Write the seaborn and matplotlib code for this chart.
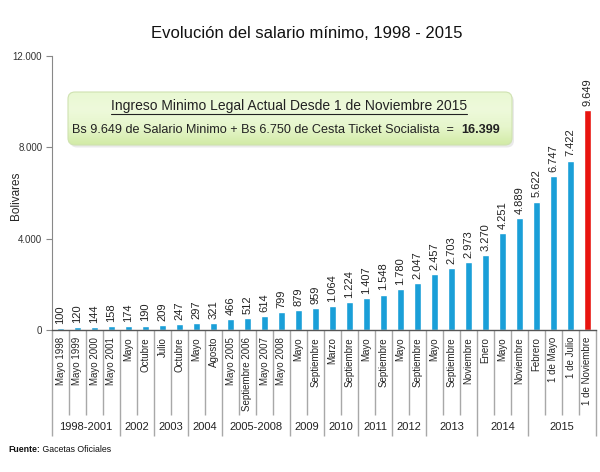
import matplotlib
matplotlib.use("Agg")
import matplotlib.pyplot as plt
import matplotlib.transforms as mtransforms
from matplotlib.patches import FancyBboxPatch
from matplotlib.colors import LinearSegmentedColormap
import numpy as np
import pandas as pd
import seaborn as sns

# ---------------- data ----------------
categories = ["Mayo 1998", "Mayo 1999", "Mayo 2000", "Mayo 2001",
              "Mayo", "Octubre",
              "Julio", "Octubre ",
              "Mayo ", "Agosto",
              "Mayo 2005", "Septiembre 2006", "Mayo 2007", "Mayo 2008",
              "Mayo  ", "Septiembre",
              "Marzo", "Septiembre ",
              "Mayo   ", "Septiembre  ",
              "Mayo    ", "Septiembre   ",
              "Mayo     ", "Septiembre    ", "Noviembre",
              "Enero", "Mayo      ", "Noviembre ",
              "Febrero", "1 de Mayo", "1 de Julio", "1 de Noviembre"]
values = [100, 120, 144, 158,
          174, 190,
          209, 247,
          297, 321,
          466, 512, 614, 799,
          879, 959,
          1064, 1224,
          1407, 1548,
          1780, 2047,
          2457, 2703, 2973,
          3270, 4251, 4889,
          5622, 6747, 7422, 9649]
groups = ["1998-2001", "2002", "2003", "2004", "2005-2008", "2009", "2010",
          "2011", "2012", "2013", "2014", "2015"]
group_sizes = [4, 2, 2, 2, 4, 2, 2, 2, 2, 3, 3, 4]
series_type = ["Histórico"] * (len(values) - 1) + ["Actual"]

title = "Evolución del salario mínimo, 1998 - 2015"
ylabel = "Bolivares"
yticks = [0, 4000, 8000, 12000]
box_line1 = "Ingreso Minimo Legal Actual Desde 1 de Noviembre 2015"
box_line2 = "Bs 9.649 de Salario Minimo + Bs 6.750 de Cesta Ticket Socialista  =  "
box_total = "16.399"
source_bold = "Fuente:"
source_text = " Gacetas Oficiales"

BLUE = "#1a9fd8"
RED = "#e8140f"
GRAY = "#a8a8a8"

def fmt(v):
    return f"{int(round(v)):,}".replace(",", ".")

# ---------------- style ----------------
sns.set_style("white")
FAM = ["Liberation Sans", "DejaVu Sans"]
plt.rcParams["font.family"] = FAM

W, H = 600, 472
fig = plt.figure(figsize=(W / 100, H / 100), dpi=100)
fig.patch.set_facecolor("white")

ax_l, ax_r, ax_b, ax_t = 52, 596, 330, 56
ax = fig.add_axes([ax_l / W, 1 - ax_b / H, (ax_r - ax_l) / W, (ax_b - ax_t) / H])

df = pd.DataFrame({"cat": categories, "val": values, "tipo": series_type})
sns.barplot(data=df, x="cat", y="val", hue="tipo", order=categories,
            palette={"Histórico": BLUE, "Actual": RED}, dodge=False,
            width=0.45, saturation=1, legend=False, ax=ax)

for cont in ax.containers:
    labs = ["" if np.isnan(v) else fmt(v) for v in cont.datavalues]
    ax.bar_label(cont, labels=labs, rotation=90, padding=3, fontsize=8,
                 color="#222222")

ax.set_xlim(-0.5, len(categories) - 0.5)
ax.set_ylim(0, 12000)
ax.set_yticks(yticks)
ax.set_yticklabels([fmt(v) for v in yticks])
ax.set_xlabel("")
ax.set_ylabel(ylabel, fontsize=8.5)
ax.yaxis.set_label_coords(-(ax_l - 22) / (ax_r - ax_l), 0.49)
ax.tick_params(axis="y", left=True, length=4, width=0.8, color="#888888",
               labelsize=7, pad=3, labelcolor="#333333")
ax.tick_params(axis="x", bottom=False, length=0, labelsize=7, pad=5)
ax.set_xticks(range(len(categories)))
ax.set_xticklabels([c.strip() for c in categories], rotation=90, va="top")
sns.despine(ax=ax, top=True, right=True)
ax.spines["left"].set_color("#888888")
ax.spines["left"].set_linewidth(0.8)
ax.spines["bottom"].set_color("#555555")
ax.spines["bottom"].set_linewidth(1.0)

# category / group separators
trans = mtransforms.blended_transform_factory(ax.transData, ax.transAxes)
ax_h = ax_b - ax_t
short_end = -(415 - ax_b) / ax_h
long_end = -(436 - ax_b) / ax_h
grp_y = -(427 - ax_b) / ax_h
bounds = set(np.cumsum([0] + group_sizes).tolist())
for i in range(len(categories) + 1):
    x = i - 0.5
    end = long_end if i in bounds else short_end
    ax.plot([x, x], [0, end], transform=trans, color=GRAY, lw=1.0,
            clip_on=False, solid_capstyle="butt")
start = 0
for g, s in zip(groups, group_sizes):
    ax.text(start + s / 2 - 0.5, grp_y, g, transform=trans, ha="center",
            va="center", fontsize=8, color="#222222")
    start += s

# title
fig.text(307 / W, 1 - 33 / H, title, ha="center", va="center", fontsize=12,
         color="#111111")

# ---------------- annotation box ----------------
bx0, by_top, bx1, by_bot = 68, 92, 512, 145
box_w, box_h = (bx1 - bx0) / 100, (by_bot - by_top) / 100
box_x, box_y = bx0 / 100, (H - by_bot) / 100
shadow = FancyBboxPatch((box_x + 0.02, box_y - 0.025), box_w, box_h,
                        boxstyle="round,pad=0,rounding_size=0.07",
                        transform=fig.dpi_scale_trans, facecolor="#dddddd",
                        edgecolor="none", alpha=0.6, zorder=1)
fig.add_artist(shadow)
box_ax = fig.add_axes([bx0 / W, 1 - by_bot / H, (bx1 - bx0) / W, (by_bot - by_top) / H],
                      zorder=2)
box_ax.axis("off")
cmap = LinearSegmentedColormap.from_list(
    "g", ["#d2eba6", "#e6f6cc", "#eefadb", "#e9f8d2"])
grad = np.linspace(0, 1, 64).reshape(-1, 1)
im = box_ax.imshow(grad, aspect="auto", cmap=cmap, extent=[0, 1, 0, 1],
                   origin="lower")
clip = FancyBboxPatch((box_x, box_y), box_w, box_h,
                      boxstyle="round,pad=0,rounding_size=0.07",
                      transform=fig.dpi_scale_trans, facecolor="none",
                      edgecolor="#cfe2b0", lw=0.8, zorder=3)
fig.add_artist(clip)
im.set_clip_path(clip)

renderer = fig.canvas.get_renderer()
t1 = fig.text(289 / W, 1 - 106 / H, box_line1, ha="center", va="center",
              fontsize=10, color="#222222", zorder=5)
bb = t1.get_window_extent(renderer)
fig.add_artist(plt.Line2D([bb.x0 / W, bb.x1 / W],
                          [(bb.y0 - 0.5) / H, (bb.y0 - 0.5) / H],
                          transform=fig.transFigure, color="#222222", lw=0.8,
                          zorder=5))
t2 = fig.text(0, 1 - 130 / H, box_line2, ha="left", va="center",
              fontsize=9.1, color="#222222", zorder=5)
t3 = fig.text(0, 1 - 130 / H, box_total, ha="left", va="center",
              fontsize=9.1, fontweight="bold", color="#222222", zorder=5)
w2 = t2.get_window_extent(renderer).width
w3 = t3.get_window_extent(renderer).width
x_start = 286 - (w2 + w3) / 2
t2.set_x(x_start / W)
t3.set_x((x_start + w2) / W)

# source
s1 = fig.text(8 / W, 1 - 449 / H, source_bold, ha="left", va="center",
              fontsize=6.3, fontweight="bold", color="#111111")
ws = s1.get_window_extent(renderer).width
fig.text((8 + ws) / W, 1 - 449 / H, source_text, ha="left", va="center",
         fontsize=6.3, color="#111111")

fig.savefig("out.png", dpi=100, facecolor="white")
